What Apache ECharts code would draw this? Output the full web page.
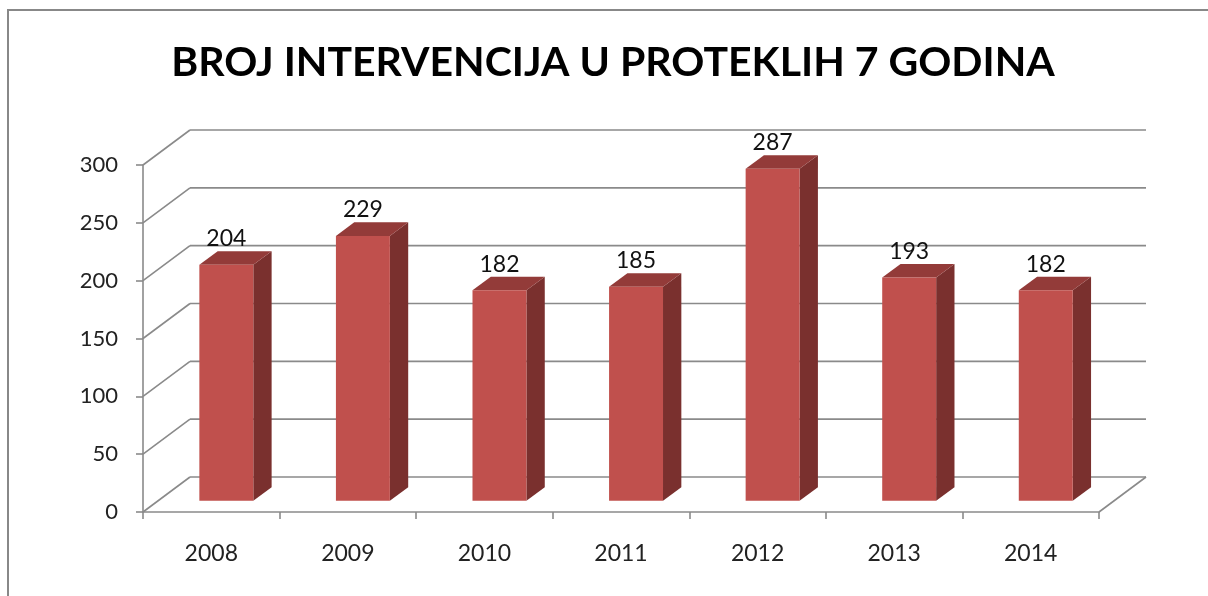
<!DOCTYPE html>
<html>
<head>
<meta charset="utf-8">
<script src="https://cdn.jsdelivr.net/npm/echarts@6/dist/echarts.min.js"></script>
<style>html,body{margin:0;padding:0;background:#fff}#c{width:1208px;height:596px}</style>
</head>
<body>
<div id="c"></div>
<script>
const titleText = 'BROJ INTERVENCIJA U PROTEKLIH 7 GODINA';
const years = ['2008', '2009', '2010', '2011', '2012', '2013', '2014'];
const interventions = [204, 229, 182, 185, 287, 193, 182];
const yTicks = [0, 50, 100, 150, 200, 250, 300];

const DX = 47, DY = 35;          // depth of the 3D box
const FRONT = 0.32, DEPTH = 0.39; // bar position inside depth
const BAR_W = 0.395;              // bar width as share of band
const GRID = '#8a8a8a';
const FONT = 'Lato, "Open Sans", sans-serif';

const chart = echarts.init(document.getElementById('c'), null, {renderer: 'canvas'});

function wallsItem(params, api) {
  const cs = params.coordSys;
  const v = api.value(1);
  const py = api.coord([0, v])[1];
  const x0 = cs.x, x1 = cs.x + cs.width;
  const children = [
    {type: 'line', shape: {x1: x0, y1: py, x2: x0 + DX, y2: py - DY}, style: {stroke: GRID, lineWidth: 1.6}},
    {type: 'line', shape: {x1: x0 + DX, y1: py - DY, x2: x1 + DX, y2: py - DY}, style: {stroke: GRID, lineWidth: 1.6}}
  ];
  if (v === 0) {
    children.push({type: 'line', shape: {x1: x1, y1: py, x2: x1 + DX, y2: py - DY}, style: {stroke: GRID, lineWidth: 1.6}});
  }
  return {type: 'group', children};
}

function barItem(params, api) {
  const i = api.value(0), v = api.value(1);
  const c0 = api.coord([i, 0]);
  const c1 = api.coord([i, v]);
  const band = api.size([1, 0])[0];
  const w = band * BAR_W;
  const ox = FRONT * DX, oy = FRONT * DY;
  const bdx = DEPTH * DX, bdy = DEPTH * DY;
  const cx = c0[0] + ox;
  const xl = cx - w / 2, xr = cx + w / 2;
  const bottom = c0[1] - oy, top = c1[1] - oy;
  return {
    type: 'group',
    children: [
      {type: 'polygon', shape: {points: [[xr, top], [xr + bdx, top - bdy], [xr + bdx, bottom - bdy], [xr, bottom]]},
        style: {fill: '#7a302e'}},
      {type: 'polygon', shape: {points: [[xl, top], [xl + bdx, top - bdy], [xr + bdx, top - bdy], [xr, top]]},
        style: {fill: '#933b39'}},
      {type: 'rect', shape: {x: xl, y: top, width: w, height: bottom - top},
        style: {fill: '#c0504d'}},
      {type: 'text', x: cx, y: top - 26,
        style: {text: String(v), fill: '#111', font: '23px ' + FONT, align: 'center', verticalAlign: 'middle'}}
    ]
  };
}

chart.setOption({
  animation: false,
  graphic: [
    {type: 'rect', shape: {x: 8, y: 10, width: 1230, height: 620}, style: {fill: 'none', stroke: '#888', lineWidth: 2}, z: 0},
    {type: 'text', x: 613, y: 63, style: {text: titleText, fill: '#000', font: 'bold 41px ' + FONT, align: 'center', verticalAlign: 'middle'}}
  ],
  grid: {left: 143, right: 109, top: 165, bottom: 84},
  xAxis: {
    type: 'category', data: years,
    axisLine: {lineStyle: {color: GRID, width: 1.6}},
    axisTick: {show: true, length: 7, lineStyle: {color: GRID, width: 1.6}},
    axisLabel: {color: '#222', fontSize: 23, fontFamily: FONT, margin: 30},
    splitLine: {show: false}
  },
  yAxis: {
    type: 'value', min: 0, max: 300, interval: 50,
    axisLine: {show: true, lineStyle: {color: GRID, width: 1.6}},
    axisTick: {show: true, length: 7, lineStyle: {color: GRID, width: 1.6}},
    axisLabel: {color: '#222', fontSize: 22, fontFamily: FONT, margin: 25},
    splitLine: {show: false}
  },
  series: [
    {type: 'custom', name: 'walls', renderItem: wallsItem, data: yTicks.map(v => [0, v]), z: 1, silent: true},
    {type: 'custom', name: 'Broj intervencija', renderItem: barItem, data: interventions.map((v, i) => [i, v]), z: 3}
  ]
});
</script>
</body>
</html>
